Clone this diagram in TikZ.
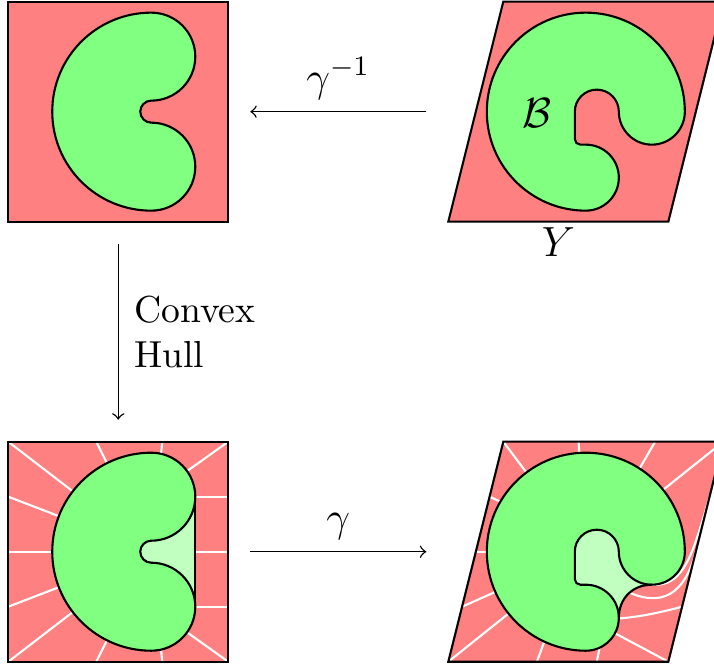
\documentclass[tikz,border=0pt]{standalone}
\usepackage{amsmath,amssymb}
\usepackage{tikz}
\usetikzlibrary{arrows.meta,calc,positioning}
\definecolor{regionred}{HTML}{FF8080}
\definecolor{blobgreen}{HTML}{80FF80}
\definecolor{hullgreen}{HTML}{C0FFC0}
% the two shapes, in the local frame of a panel
\newcommand{\kidneypath}{(2.6,2.2) arc[start angle=-90,end angle=90,radius=0.8] arc[start angle=90,end angle=270,radius=1.8] arc[start angle=-90,end angle=90,radius=0.8] arc[start angle=-90,end angle=-270,radius=0.2] -- cycle}
\newcommand{\bitepath}{(4.3,2) arc[start angle=0,end angle=270,radius=1.8] arc[start angle=-90,end angle=90,radius=0.6] -- (2.4,1.4) arc[start angle=270,end angle=180,radius=0.1] -- (2.3,2) arc[start angle=180,end angle=0,radius=0.4] arc[start angle=180,end angle=360,radius=0.6] -- cycle}
\newcommand{\slantpath}{(0,0) -- (4,0) -- (5,4) -- (1,4) -- cycle}

\begin{document}
\begin{tikzpicture}[x=0.55cm,y=0.55cm,>=to,
  blobfill/.style={semithick,fill=blobgreen},
  rim/.style={semithick},
  flowline/.style={white,semithick}]
  \useasboundingbox (-0.15,-8.08) rectangle (12.83,4.03);
  % top left
  \begin{scope}
  \fill[regionred] (0,0) rectangle (4,4);
  \filldraw[blobfill] \kidneypath;
  \draw[rim] (0,0) rectangle (4,4);
  \end{scope}
  % top right
  \begin{scope}[shift={(8,0)}]
  \fill[regionred] \slantpath;
  \filldraw[blobfill] \bitepath;
  \draw[rim] \slantpath;
  \node (setB) at (1.62,1.98) {\large$\mathcal{B}$};
  \node[below,inner sep=1.5pt] (setY) at (2,0) {\large$Y$};
  \end{scope}
  % bottom left
  \begin{scope}[shift={(0,-8)}]
  \fill[regionred] (0,0) rectangle (4,4);
  \foreach \bx/\by/\cx/\cy in {0/0/2.6/2,0/1/2.6/2,0/2/2.6/2,0/3/2.6/2,0/4/2.6/2,1.6/4/2.6/2,2.8/4/2.6/2,4/4/2.6/3,4/3/2.6/3,4/2/2.6/2,4/1/2.6/1,4/0/2.6/1,2.8/0/2.6/2,1.6/0/2.6/2}{\draw[flowline] (\bx,\by) -- (\cx,\cy);}
  \fill[hullgreen] (2.4,1) rectangle (3.4,3);
  \filldraw[blobfill] \kidneypath;
  \draw[rim] (3.4,1) -- (3.4,3);
  \draw[rim] (0,0) rectangle (4,4);
  \end{scope}
  % bottom right
  \begin{scope}[shift={(8,-8)}]
  \fill[regionred] \slantpath;
  \foreach \bx/\by/\cx/\cy in {1/4/2.5/2,2.37/4/2.45/2,3.76/4/2.6/2,5/4/2.5/2,0.75/3/2.5/2.2,0.5/2/2.5/2,0.25/1/2.5/2,0/0/2.5/2,1.61/0/2.2/1.6,2.7/0/2.8/0.5,4/0/2.5/0.8}{\draw[flowline] (\bx,\by) -- (\cx,\cy);}
  \draw[flowline] (4.75,3) .. controls (4.45,2) and (4.3,1.35) .. (3.7,1.4);
  \draw[flowline] (4.5,2) .. controls (4.3,1.25) and (3.9,0.95) .. (3.2,1.3);
  \draw[flowline] (4.25,1) .. controls (3.8,0.88) and (3.4,0.8) .. (3,0.78);
  \fill[hullgreen] (2.3,1.4) -- (2.3,2.5) -- (3.7,2.5) -- (3.7,1.4) .. controls (3.35,1.4) and (3.1,1.15) .. (3.1,0.8) -- (2.5,0.8) -- cycle;
  \filldraw[blobfill] \bitepath;
  \draw[rim] (3.7,1.4) .. controls (3.35,1.4) and (3.1,1.15) .. (3.1,0.8);
  \draw[rim] \slantpath;
  \end{scope}
  % the maps between the panels
  \coordinate (tl-e) at (4.4,2);
  \coordinate (tr-w) at (7.6,2);
  \coordinate (tl-s) at (2,-0.4);
  \coordinate (bl-n) at (2,-3.6);
  \coordinate (bl-e) at (4.4,-6);
  \coordinate (br-w) at (7.6,-6);
  \draw[->] (tr-w) -- node[above] (ginv) {\large$\gamma^{-1}$} (tl-e);
  \draw[->] (tl-s) -- node[right=1pt,align=left,font=\fontsize{10.7}{12.8}\selectfont] (hull) {Convex\\Hull} (bl-n);
  \draw[->] (bl-e) -- node[above] (gam) {\large$\gamma$} (br-w);
\end{tikzpicture}
\end{document}
